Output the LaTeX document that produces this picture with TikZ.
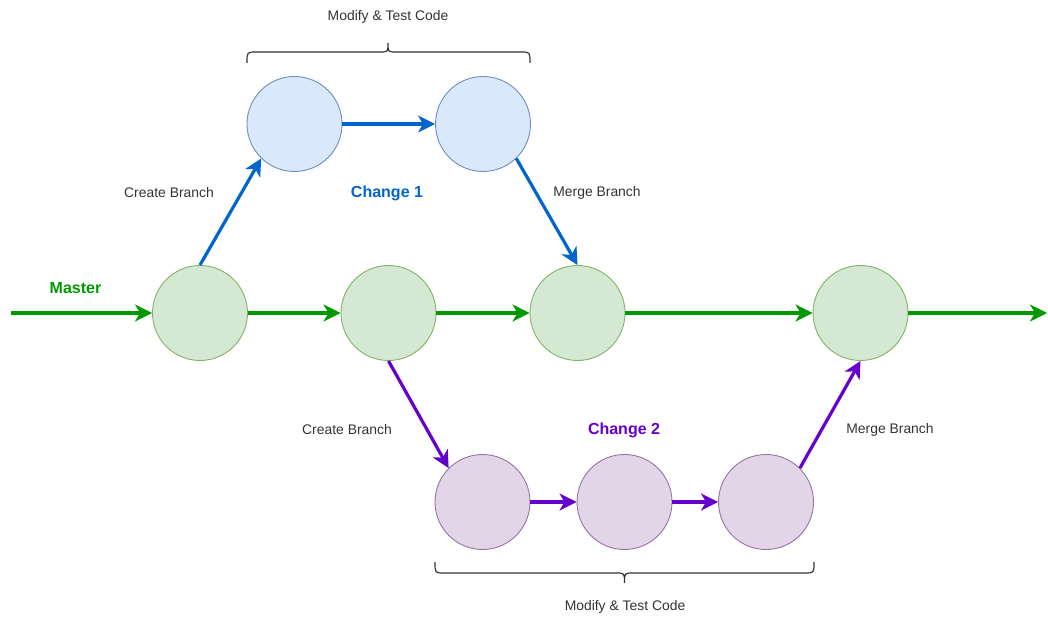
\documentclass[tikz,border=0pt]{standalone}
\usepackage{fontspec}
\setmainfont{Liberation Sans}
\usetikzlibrary{arrows.meta}
\definecolor{mgreen}{HTML}{009900}
\definecolor{mblue}{HTML}{0066CC}
\definecolor{mpurple}{HTML}{6600CC}
\definecolor{gfill}{HTML}{D5E8D4}
\definecolor{gline}{HTML}{82B366}
\definecolor{bfill}{HTML}{DAE8FC}
\definecolor{bline}{HTML}{6C8EBF}
\definecolor{pfill}{HTML}{E1D5E7}
\definecolor{pline}{HTML}{9673A6}
\definecolor{ink}{HTML}{333333}
\tikzset{
  commit/.style={circle, minimum size=95pt, inner sep=0pt, line width=0.9pt},
  gcommit/.style={commit, fill=gfill, draw=gline},
  bcommit/.style={commit, fill=bfill, draw=bline},
  pcommit/.style={commit, fill=pfill, draw=pline},
  flow/.style={line width=3.2pt, -{Stealth[length=17pt, width=17pt, inset=5pt]}},
  gflow/.style={flow, draw=mgreen},
  bflow/.style={flow, draw=mblue},
  pflow/.style={flow, draw=mpurple},
  note/.style={text=ink, font=\fontsize{13.9}{16}\selectfont, inner sep=0pt},
  title/.style={font=\fontsize{16}{19}\selectfont\bfseries, inner sep=0pt},
  bracket/.style={draw=ink, line width=1.2pt}
}
\begin{document}
\begin{tikzpicture}[x=1pt, y=-1pt]
\useasboundingbox (0,0) rectangle (1048,617);

% master line commits
\node[gcommit] (g1) at (200,313) {};
\node[gcommit] (g2) at (388.5,313) {};
\node[gcommit] (g3) at (577.5,313) {};
\node[gcommit] (g4) at (860.5,313) {};

% change 1 commits
\node[bcommit] (b1) at (294.5,124) {};
\node[bcommit] (b2) at (483,124) {};

% change 2 commits
\node[pcommit] (p1) at (482.5,502) {};
\node[pcommit] (p2) at (624.5,502) {};
\node[pcommit] (p3) at (766,502) {};

\coordinate (start) at (11,313);
\coordinate (finish) at (1047,313);

% master arrows
\draw[gflow] (start) -- (g1.west);
\draw[gflow] (g1.east) -- (g2.west);
\draw[gflow] (g2.east) -- (g3.west);
\draw[gflow] (g3.east) -- (g4.west);
\draw[gflow] (g4.east) -- (finish);

% change 1 arrows
\draw[bflow] (g1.north) -- (b1.226);
\draw[bflow] (b1.east) -- (b2.west);
\draw[bflow] (b2.-46) -- (g3.north);

% change 2 arrows
\draw[pflow] (g2.south) -- (p1.135);
\draw[pflow] (p1.east) -- (p2.west);
\draw[pflow] (p2.east) -- (p3.west);
\draw[pflow] (p3.45) -- (g4.south);

% labels
\node[title, text=mgreen] (lmaster) at (75.5,288) {Master};
\node[title, text=mblue] (lch1) at (387,193) {Change 1};
\node[title, text=mpurple] (lch2) at (624,430) {Change 2};
\node[note] (lcb1) at (169,193) {Create Branch};
\node[note] (lmb1) at (597,193) {Merge Branch};
\node[note] (lcb2) at (347,430) {Create Branch};
\node[note] (lmb2) at (890,430) {Merge Branch};
\node[note] (lmt1) at (388,17) {Modify \& Test Code};
\node[note] (lmt2) at (625,607) {Modify \& Test Code};

% braces
\draw[bracket] (247,63) .. controls (247,52) .. (256,52) -- (380,52)
  .. controls (388,52) .. (388,43) .. controls (388,52) .. (396,52)
  -- (521,52) .. controls (530,52) .. (530,63);
\draw[bracket] (435,562) .. controls (435,573) .. (444,573) -- (616,573)
  .. controls (624.5,573) .. (624.5,583) .. controls (624.5,573) .. (633,573)
  -- (805,573) .. controls (814,573) .. (814,562);
\end{tikzpicture}
\end{document}
